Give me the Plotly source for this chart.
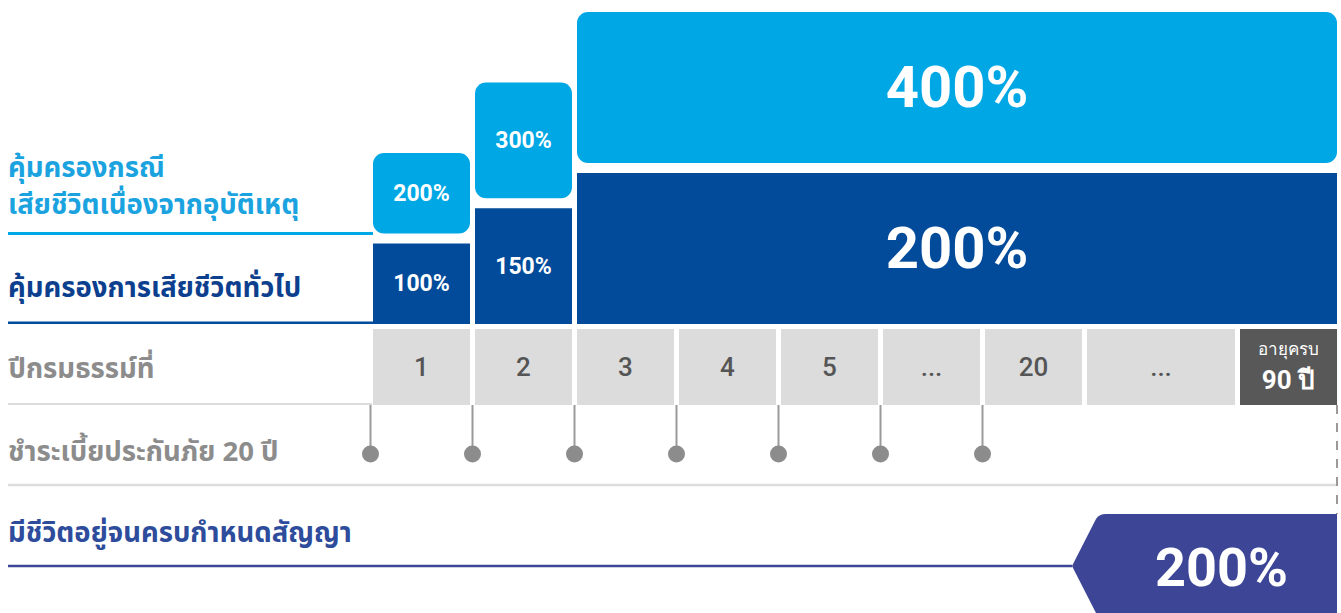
import plotly.graph_objects as go

# ---------------- data ----------------
coverage_periods = ["ปีที่ 1", "ปีที่ 2", "ปีที่ 3 - อายุครบ 90 ปี"]
general_death_pct = [100, 150, 200]      # คุ้มครองการเสียชีวิตทั่วไป
accident_death_pct = [200, 300, 400]     # คุ้มครองกรณีเสียชีวิตเนื่องจากอุบัติเหตุ
policy_year_labels = ["1", "2", "3", "4", "5", "...", "20", "...", "อายุครบ<br>90 ปี"]
premium_paid_columns = ["1", "2", "3", "4", "5", "...", "20"]   # columns that start with a premium dot
maturity_pct = 200

label_accident = ["คุ้มครองกรณี", "เสียชีวิตเนื่องจากอุบัติเหตุ"]
label_general = "คุ้มครองการเสียชีวิตทั่วไป"
label_policy_year = "ปีกรมธรรม์ที่"
label_premium = "ชำระเบี้ยประกันภัย 20 ปี"
label_maturity = "มีชีวิตอยู่จนครบกำหนดสัญญา"

# ---------------- layout constants ----------------
W, H = 1341, 613
COL_LEFT, PITCH, CELL_GAP = 373, 102, 5
col_slots = [1, 1, 1, 1, 1, 1, 1, 1.5, 1]
coverage_cols = [(0, 0), (1, 1), (2, 8)]          # which table columns each coverage bar spans

BAR_BOTTOM_PX = 324
PX_PER_UNIT = 0.705
PAD = 14.2                                          # visual padding / gap (in % units)

C_LIGHT = "#00A7E5"
C_DARK = "#024B9B"
C_CELL = "#DCDCDC"
C_CELL_DARK = "#585858"
C_PURPLE = "#3D4596"
C_GRAY_TXT = "#8C8C8C"
C_DOT = "#8C8C8C"
THAI = "Noto Sans Thai, Noto Sans, DejaVu Sans, sans-serif"
NUM = "Roboto, Noto Sans, sans-serif"

# column geometry
col_left = []
acc = COL_LEFT
for s in col_slots:
    col_left.append(acc)
    acc += s * PITCH
col_width = [s * PITCH - CELL_GAP for s in col_slots]
col_right = [l + w for l, w in zip(col_left, col_width)]
col_center = [(l + r) / 2 for l, r in zip(col_left, col_right)]

bar_left = [col_left[a] for a, b in coverage_cols]
bar_right = [col_right[b] for a, b in coverage_cols]
bar_center = [(l + r) / 2 for l, r in zip(bar_left, bar_right)]
bar_width = [r - l for l, r in zip(bar_left, bar_right)]
big = [b - a > 0 for a, b in coverage_cols]
bar_font = [58 if g else 23 for g in big]

fig = go.Figure()

# general death coverage: spans [-PAD, g]
fig.add_trace(go.Bar(
    x=bar_center, width=bar_width,
    y=[g + PAD for g in general_death_pct], base=[-PAD] * len(general_death_pct),
    marker=dict(color=C_DARK, line=dict(width=0)),
    text=[f"{v}%" for v in general_death_pct], textposition="inside", insidetextanchor="middle",
    textangle=0, textfont=dict(family=NUM, size=bar_font, color="white", weight="bold"),
    hovertext=coverage_periods, hoverinfo="text", xaxis="x", yaxis="y",
))
# accident death coverage (extra on top of general): spans [g+PAD, a+PAD]
fig.add_trace(go.Bar(
    x=bar_center, width=bar_width,
    y=[a - g + PAD for a, g in zip(accident_death_pct, general_death_pct)],
    base=[g + PAD for g in general_death_pct],
    marker=dict(color=C_LIGHT, line=dict(width=0), cornerradius=11),
    text=[f"{v}%" for v in accident_death_pct], textposition="inside", insidetextanchor="middle",
    textangle=0, textfont=dict(family=NUM, size=bar_font, color="white", weight="bold"),
    hovertext=coverage_periods, hoverinfo="text", xaxis="x", yaxis="y",
))

# policy-year table
CELL_TOP, CELL_H = 329, 76
n = len(policy_year_labels)
cell_colors = [C_CELL] * (n - 1) + [C_CELL_DARK]
cell_txt_colors = ["#555555"] * (n - 1) + ["white"]
cell_text = []
for i, t in enumerate(policy_year_labels):
    if i == n - 1:
        a, b = t.split("<br>")
        cell_text.append(f"<span style='font-size:17px'>{a}</span><br><b>{b}</b>")
    else:
        cell_text.append(t)
fig.add_trace(go.Bar(
    x=col_center, width=col_width, y=[CELL_H] * n, base=[CELL_TOP] * n,
    marker=dict(color=cell_colors, line=dict(width=0)),
    text=cell_text, textposition="inside", insidetextanchor="middle", textangle=0,
    textfont=dict(family=NUM, size=26, color=cell_txt_colors, weight=500),
    hoverinfo="skip", xaxis="x", yaxis="y2",
))

# premium payment stems and dots
STEM_TOP, DOT_Y = CELL_TOP + CELL_H, 454
dot_x = [col_left[policy_year_labels.index(c) if c != "..." else 5] - CELL_GAP / 2
         for c in premium_paid_columns]
stem_x, stem_y = [], []
for xv in dot_x:
    stem_x += [xv, xv, None]
    stem_y += [STEM_TOP, DOT_Y, None]
fig.add_trace(go.Scatter(x=stem_x, y=stem_y, mode="lines", line=dict(color="#9A9A9A", width=2),
                         hoverinfo="skip", xaxis="x", yaxis="y2"))
fig.add_trace(go.Scatter(x=dot_x, y=[DOT_Y] * len(dot_x), mode="markers",
                         marker=dict(color=C_DOT, size=17, line=dict(width=0)),
                         hoverinfo="skip", xaxis="x", yaxis="y2"))

shapes = []
LX = 8
# guide lines under left labels
shapes.append(dict(type="line", xref="x", yref="y", x0=LX, x1=bar_left[0],
                   y0=general_death_pct[0] + PAD, y1=general_death_pct[0] + PAD,
                   line=dict(color=C_LIGHT, width=3)))
shapes.append(dict(type="line", xref="x", yref="y", x0=LX, x1=bar_left[0], y0=-PAD + 1.5, y1=-PAD + 1.5,
                   line=dict(color=C_DARK, width=3)))
shapes.append(dict(type="line", xref="x", yref="y2", x0=LX, x1=col_left[0] - 1, y0=404, y1=404,
                   line=dict(color="#DDDDDD", width=2)))
shapes.append(dict(type="line", xref="x", yref="y2", x0=LX, x1=col_right[-1], y0=485, y1=485,
                   line=dict(color="#DDDDDD", width=2.5)))
# dashed end line
shapes.append(dict(type="line", xref="x", yref="y2", x0=col_right[-1], x1=col_right[-1], y0=STEM_TOP, y1=514,
                   line=dict(color="#9A9A9A", width=2, dash="dash")))
# maturity arrow
MAT_TIP_X, MAT_MID, MAT_TOP, MAT_BOT = 1072, 566, 514, 618
MAT_RIGHT = col_right[-1]
shapes.append(dict(type="line", xref="x", yref="y2", x0=LX, x1=MAT_TIP_X, y0=MAT_MID, y1=MAT_MID,
                   line=dict(color=C_PURPLE, width=2.5)))
path = (f"M {MAT_TIP_X} {MAT_MID} L {MAT_TIP_X+24} {MAT_TOP+5} Q {MAT_TIP_X+27} {MAT_TOP} {MAT_TIP_X+34} {MAT_TOP} "
        f"L {MAT_RIGHT} {MAT_TOP} L {MAT_RIGHT} {MAT_BOT} L {MAT_TIP_X+34} {MAT_BOT} "
        f"Q {MAT_TIP_X+27} {MAT_BOT} {MAT_TIP_X+24} {MAT_BOT-5} Z")
shapes.append(dict(type="path", xref="x", yref="y2", path=path, fillcolor=C_PURPLE, line=dict(width=0)))

annotations = []
def lab(text, y, color, size=27.5, weight="bold"):
    annotations.append(dict(text=text, xref="x", yref="y2", x=LX - 2, y=y, xanchor="left", yanchor="middle",
                            align="left", showarrow=False,
                            font=dict(family=THAI, size=size, color=color, weight=weight)))

lab(label_accident[0], 168, "#1AA3DF")
lab(label_accident[1], 205, "#1AA3DF")
lab(label_general, 288, "#0D3F8F")
lab(label_policy_year, 369, C_GRAY_TXT)
lab(label_premium, 452, C_GRAY_TXT)
lab(label_maturity, 533, "#2E4C9C")

annotations.append(dict(text=f"{maturity_pct}%", xref="x", yref="y2", x=(MAT_TIP_X + 34 + MAT_RIGHT) / 2,
                        y=MAT_MID + 1, showarrow=False, xanchor="center", yanchor="middle",
                        font=dict(family=NUM, size=54, color="white", weight="bold")))

fig.update_layout(
    width=W, height=H, margin=dict(l=0, r=0, t=0, b=0),
    paper_bgcolor="white", plot_bgcolor="rgba(0,0,0,0)", showlegend=False, barmode="overlay",
    xaxis=dict(range=[0, W], visible=False, fixedrange=True),
    yaxis=dict(domain=[1 - BAR_BOTTOM_PX / H, 1],
               range=[-PAD, -PAD + BAR_BOTTOM_PX / PX_PER_UNIT], visible=False, fixedrange=True),
    yaxis2=dict(domain=[0, 1], range=[H, 0], visible=False, fixedrange=True, anchor="x"),
    shapes=shapes, annotations=annotations,
)

fig.write_html("out.html", config={"displayModeBar": False},
               post_script="document.body.style.margin='0';document.body.style.overflow='hidden';")
